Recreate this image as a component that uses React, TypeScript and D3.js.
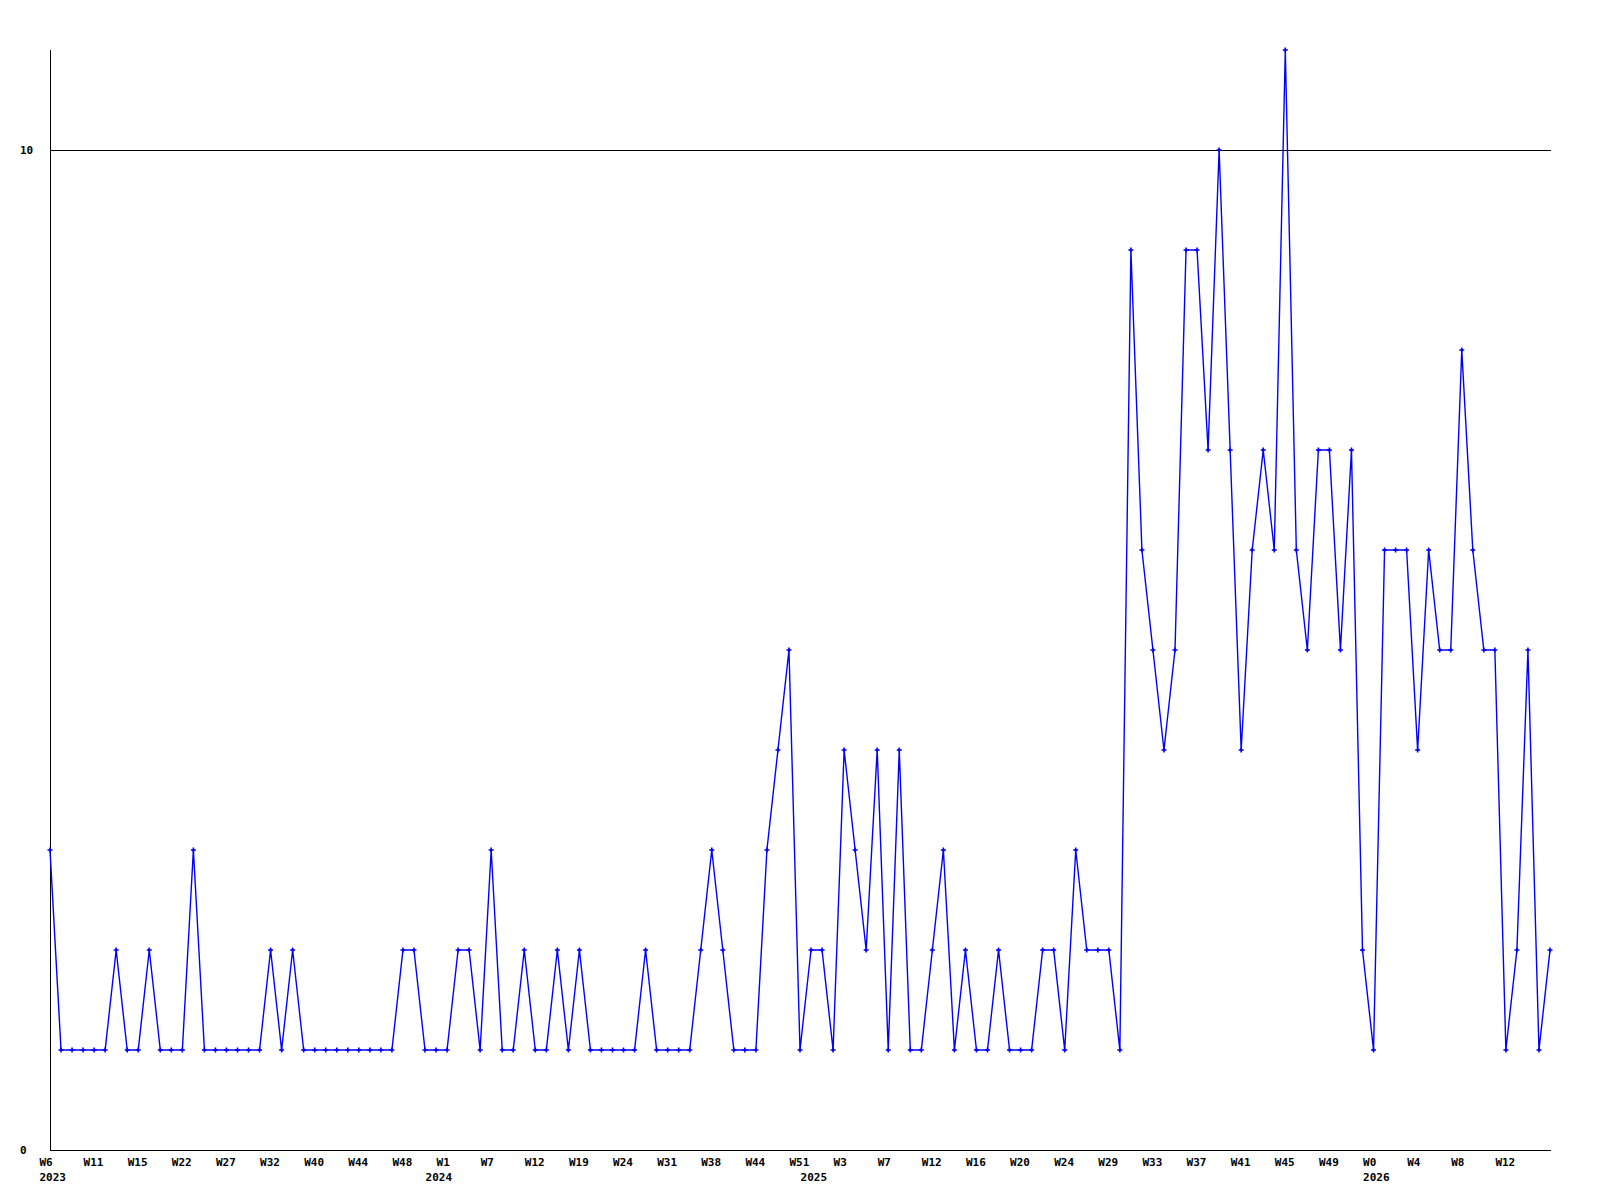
import React from "react";
import * as d3 from "d3";

const values: number[] = [
  3, 1, 1, 1, 1, 1, 2, 1, 1, 2, 1, 1, 1, 3, 1, 1, 1, 1, 1, 1, 2, 1,
  2, 1, 1, 1, 1, 1, 1, 1, 1, 1, 2, 2, 1, 1, 1, 2, 2, 1, 3, 1, 1, 2, 1, 1,
  2, 1, 2, 1, 1, 1, 1, 1, 2, 1, 1, 1, 1, 2, 3, 2, 1, 1, 1, 3, 4, 5, 1, 2, 2,
  1, 4, 3, 2, 4, 1, 4, 1, 1, 2, 3, 1, 2, 1, 1, 2, 1, 1, 1, 2, 2, 1, 3, 2,
  2, 2, 1, 9, 6, 5, 4, 5, 9, 9, 7, 10, 7, 4, 6, 7, 6, 11, 6, 5, 7,
  7, 5, 7, 2, 1, 6, 6, 6, 4, 6, 5, 5, 8, 6, 5, 5, 1, 2, 5, 1, 2,
];

const weekTickLabels: string[] = [
  "W6", "W11", "W15", "W22", "W27", "W32", "W40", "W44", "W48",
  "W1", "W7", "W12", "W19", "W24", "W31", "W38", "W44", "W51",
  "W3", "W7", "W12", "W16", "W20", "W24", "W29", "W33", "W37", "W41", "W45", "W49",
  "W0", "W4", "W8", "W12",
];
const weekTickStep = 4;

const yearLabels: string[] = ["2023", "2024", "2025", "2026"];
const yearStartIndex: number[] = [0, 35, 69, 120];

const yTickValues: number[] = [0, 10];
const yMax = 11;

export default function App() {
  const width = 1600;
  const height = 1200;
  const left = 50;
  const right = 1550;
  const top = 50;
  const bottom = 1150;

  const x = d3.scaleLinear().domain([0, values.length - 1]).range([left, right]);
  const y = d3.scaleLinear().domain([0, yMax]).range([bottom, top]);

  const line = d3
    .line<number>()
    .x((_, i) => x(i))
    .y((d) => y(d));

  const font = "'DejaVu Sans Mono', monospace";
  const blue = "#0000ff";

  return (
    <svg
      width={width}
      height={height}
      style={{ position: "absolute", left: 0, top: 0, background: "#fff" }}
    >
      <rect x={0} y={0} width={width} height={height} fill="#fff" />
      {yTickValues
        .filter((v) => v !== 0)
        .map((v) => (
          <line
            key={"g" + v}
            x1={left}
            x2={right + 1}
            y1={Math.round(y(v)) + 0.5}
            y2={Math.round(y(v)) + 0.5}
            stroke="#000"
            strokeWidth={1}
          />
        ))}
      <line x1={left + 0.5} x2={left + 0.5} y1={top} y2={bottom + 1} stroke="#000" strokeWidth={1} />
      <line x1={left} x2={right + 1} y1={bottom + 0.5} y2={bottom + 0.5} stroke="#000" strokeWidth={1} />

      {yTickValues.map((v) => (
        <text
          key={"y" + v}
          x={20}
          y={y(v) + 4}
          fontFamily={font}
          fontWeight="bold"
          fontSize={11}
          fill="#000"
        >
          {v}
        </text>
      ))}

      {weekTickLabels.map((lab, k) => (
        <text
          key={"w" + k}
          x={x(k * weekTickStep) - 10.5}
          y={1166}
          fontFamily={font}
          fontWeight="bold"
          fontSize={11}
          fill="#000"
        >
          {lab}
        </text>
      ))}
      {yearLabels.map((lab, k) => (
        <text
          key={"yr" + k}
          x={x(yearStartIndex[k]) - 10.5}
          y={1181}
          fontFamily={font}
          fontWeight="bold"
          fontSize={11}
          fill="#000"
        >
          {lab}
        </text>
      ))}

      <path d={line(values) || ""} fill="none" stroke={blue} strokeWidth={1.4} />
      {values.map((v, i) => (
        <g key={"m" + i} transform={`translate(${x(i)},${y(v)})`}>
          <path d="M-2.5,0H2.5M0,-2.5V2.5" stroke={blue} strokeWidth={1.6} fill="none" />
          <rect x={-1} y={-1} width={2} height={2} fill={blue} />
        </g>
      ))}
    </svg>
  );
}
